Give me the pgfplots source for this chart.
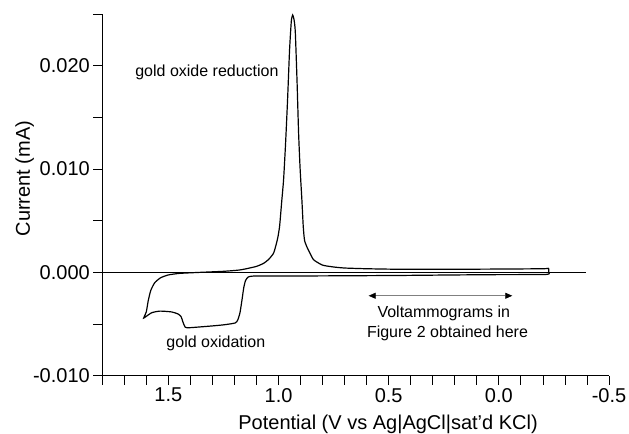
\documentclass[border=0pt]{standalone}
\usepackage{pgfplots}
\pgfplotsset{compat=1.18}
\usepackage{fontspec}
\setmainfont{Liberation Sans}
\usetikzlibrary{arrows.meta}
\begin{document}
\begin{tikzpicture}
\begin{axis}[
  scale only axis, width=506.7bp, height=361.7bp,
  xmin=-0.5, xmax=1.8, x dir=reverse,
  ymin=-0.010, ymax=0.025,
  axis x line*=bottom, axis y line*=left,
  xtick pos=left, ytick pos=left,
  tick align=outside,
  xtick={-0.5,0,0.5,1,1.5}, xticklabels={-0.5,0.0,0.5,1.0,1.5},
  minor xtick={-0.4,-0.3,-0.2,-0.1,0.1,0.2,0.3,0.4,0.6,0.7,0.8,0.9,1.1,1.2,1.3,1.4,1.6,1.7,1.8},
  ytick={-0.01,0,0.01,0.02}, yticklabels={-0.010,0.000,0.010,0.020},
  minor ytick={-0.005,0.005,0.015,0.025},
  scaled y ticks=false,
  major tick length=9bp, minor tick length=9bp,
  every tick/.style={black, line width=0.8bp},
  axis line style={black, line width=0.8bp},
  tick label style={font=\fontsize{20bp}{24bp}\selectfont},
  label style={font=\fontsize{20bp}{24bp}\selectfont},
  xlabel={Potential (V vs Ag|AgCl|sat'd KCl)},
  ylabel={Current (mA)},
  xlabel style={at={(axis description cs:0.564,-0.1482)}, anchor=base},
  ylabel style={at={(axis description cs:-0.1427,0.545)}, anchor=base},
  clip=false,
]
% zero line
\addplot[black, line width=1.3bp] coordinates {(1.8,0) (-0.394,0)};
% cyclic voltammogram
\addplot[black, line width=1.2bp, smooth, tension=0.35] coordinates {
(-0.226,0.00040) (-0.226,0.0000) (-0.215,-0.00020) (0.0,-0.00022) (0.2,-0.00025)
(0.45,-0.00030) (0.7,-0.00033) (0.9,-0.00035) (1.1,-0.00036) (1.121,-0.00037)
(1.138,-0.00045) (1.150,-0.00080) (1.158,-0.00150) (1.166,-0.00268) (1.175,-0.00390)
(1.185,-0.00460) (1.197,-0.00490)
(1.25,-0.00508) (1.310,-0.00520) (1.38,-0.00532) (1.409,-0.00536) (1.424,-0.00530)
(1.434,-0.00480) (1.442,-0.00430)
(1.455,-0.00404) (1.485,-0.00383) (1.538,-0.00375) (1.575,-0.00390) (1.600,-0.00425)
(1.612,-0.00442)
(1.600,-0.00380) (1.592,-0.00280) (1.580,-0.00175) (1.562,-0.00100) (1.535,-0.00052)
(1.500,-0.00025) (1.45,-0.00010) (1.356,0.0000) (1.25,0.00010) (1.18,0.00022) (1.144,0.00036)
(1.10,0.00058) (1.068,0.00087) (1.045,0.00125) (1.023,0.00184) (1.012,0.00260)
(1.003,0.00340) (0.995,0.00450) (0.985,0.00700) (0.977,0.00900) (0.968,0.01250)
(0.959,0.01670) (0.950,0.02150) (0.942,0.02430) (0.936,0.02490) (0.930,0.02450)
(0.924,0.02330) (0.916,0.01850) (0.909,0.01350) (0.902,0.01000) (0.894,0.00700)
(0.888,0.00450) (0.882,0.00310) (0.870,0.00240) (0.856,0.00180) (0.84,0.00120)
(0.80,0.00070) (0.75,0.00052) (0.70,0.00042) (0.6,0.00035) (0.45,0.00030) (0.2,0.00030)
(0.0,0.00032) (-0.2,0.00035) (-0.226,0.00040)
};
\node[anchor=base, font=\fontsize{16bp}{19bp}\selectfont] at (axis cs:1.325,0.0190) {gold oxide reduction};
\node[anchor=base, font=\fontsize{16bp}{19bp}\selectfont] at (axis cs:1.2845,-0.00726) {gold oxidation};
\node[anchor=base, font=\fontsize{16bp}{19bp}\selectfont] at (axis cs:0.25,-0.004356) {Voltammograms in};
\node[anchor=base, font=\fontsize{16bp}{19bp}\selectfont] at (axis cs:0.233,-0.00629) {Figure 2 obtained here};
\draw[gray, line width=0.6bp, {Triangle[black,length=7bp,width=6bp]}-{Triangle[black,length=7bp,width=6bp]}] (axis cs:0.591,-0.002265) -- (axis cs:-0.061,-0.002265);
\end{axis}
\pgfresetboundingbox
\path[use as bounding box] (-102.3bp,-58.3bp) rectangle (526.7bp,375.7bp);
\end{tikzpicture}
\end{document}
